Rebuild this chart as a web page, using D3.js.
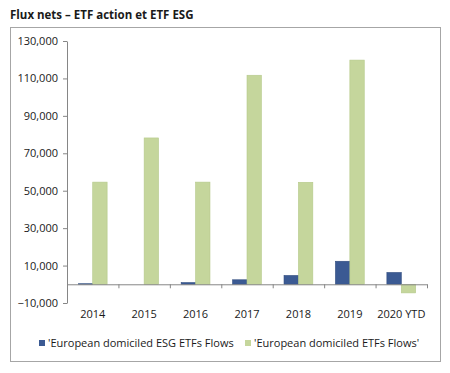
<!DOCTYPE html>
<html>
<head>
<meta charset="utf-8">
<script src="https://cdn.jsdelivr.net/npm/d3@7"></script>
<style>
  body { margin: 0; background: #fff; }
  svg { display: block; font-family: "Open Sans", sans-serif; }
</style>
</head>
<body>
<svg></svg>
<script>
// chart size
let width = 450
let height = 373

// data
const categories = ['2014', '2015', '2016', '2017', '2018', '2019', '2020 YTD']
const seriesNames = ["'European domiciled ESG ETFs Flows", "'European domiciled ETFs Flows'"]
const esgFlows = [300, 0, 900, 2400, 4700, 12300, 6300]
const etfFlows = [54600, 78200, 54600, 111700, 54500, 119800, -4600]
const yTicks = [-10000, 10000, 30000, 50000, 70000, 90000, 110000, 130000]
const colors = ['#3b5a93', '#c5d69c']
const strokes = ['#2e4a7d', '#b5c98a']

let svg = d3.select('svg')
  .attr('width', width)
  .attr('height', height)

// title
svg.append('text')
  .attr('x', 10)
  .attr('y', 19)
  .attr('font-size', 11.5)
  .attr('font-weight', 'bold')
  .attr('fill', '#1a1a1a')
  .text('Flux nets \u2013 ETF action et ETF ESG')

// outer frame
svg.append('rect')
  .attr('x', 10.5)
  .attr('y', 27.5)
  .attr('width', 430)
  .attr('height', 334)
  .attr('fill', 'none')
  .attr('stroke', '#a6a6a6')

// scales
let xScale = d3.scaleBand()
  .domain(categories)
  .range([67, 427])

let xSub = d3.scaleBand()
  .domain([0, 1])
  .range([xScale.bandwidth() * 0.22, xScale.bandwidth() * 0.78])

let yScale = d3.scaleLinear()
  .domain([-10000, 130000])
  .range([303, 41])

let edgeScale = d3.scaleLinear()
  .domain([0, categories.length])
  .range([67, 427])

// bars
let rows = categories.map((c, i) => ({ cat: c, vals: [esgFlows[i], etfFlows[i]] }))

let groups = svg.selectAll('g.grp')
  .data(rows)
  .enter()
  .append('g')
  .attr('class', 'grp')
  .attr('transform', d => 'translate(' + xScale(d.cat) + ',0)')

groups.selectAll('rect')
  .data(d => d.vals.map((v, k) => ({ v: v, k: k })).filter(d => d.v !== 0))
  .enter()
  .append('rect')
  .attr('x', d => xSub(d.k))
  .attr('width', xSub.bandwidth())
  .attr('y', d => yScale(Math.max(0, d.v)))
  .attr('height', d => Math.abs(yScale(d.v) - yScale(0)))
  .attr('fill', d => colors[d.k])
  .attr('stroke', d => strokes[d.k])
  .attr('stroke-width', 0.6)

// y axis
let yAxis = d3.axisLeft(yScale)
  .tickValues(yTicks)
  .tickFormat(d3.format(','))
  .tickSizeInner(4)
  .tickSizeOuter(0)

let yg = svg.append('g')
  .attr('transform', 'translate(67,0)')
  .call(yAxis)
yg.selectAll('path, line').attr('stroke', '#868686')
yg.selectAll('text')
  .attr('font-family', '"Open Sans", sans-serif')
  .attr('font-size', 11)
  .attr('fill', '#1a1a1a')
  .attr('x', -9)

// x axis line at zero with tick marks at band edges
let xEdgeAxis = d3.axisBottom(edgeScale)
  .tickValues(d3.range(1, categories.length + 1))
  .tickFormat('')
  .tickSizeInner(4)
  .tickSizeOuter(0)

let xg = svg.append('g')
  .attr('transform', 'translate(0,' + yScale(0) + ')')
  .call(xEdgeAxis)
xg.selectAll('path, line').attr('stroke', '#868686')

// category labels
let xLabels = d3.axisBottom(xScale)
  .tickSize(0)
  .tickPadding(0)

let xl = svg.append('g')
  .attr('transform', 'translate(0,310)')
  .call(xLabels)
xl.select('path').remove()
xl.selectAll('text')
  .attr('font-family', '"Open Sans", sans-serif')
  .attr('font-size', 11)
  .attr('fill', '#1a1a1a')

// legend
let legendX = [39, 245]
let legend = svg.selectAll('g.legend')
  .data(seriesNames)
  .enter()
  .append('g')
  .attr('class', 'legend')
  .attr('transform', (d, i) => 'translate(' + legendX[i] + ',340)')

legend.append('rect')
  .attr('width', 6)
  .attr('height', 6)
  .attr('fill', (d, i) => colors[i])

legend.append('text')
  .attr('x', 9)
  .attr('y', 7)
  .attr('font-size', 11)
  .attr('fill', '#1a1a1a')
  .text(d => d)
</script>
</body>
</html>
